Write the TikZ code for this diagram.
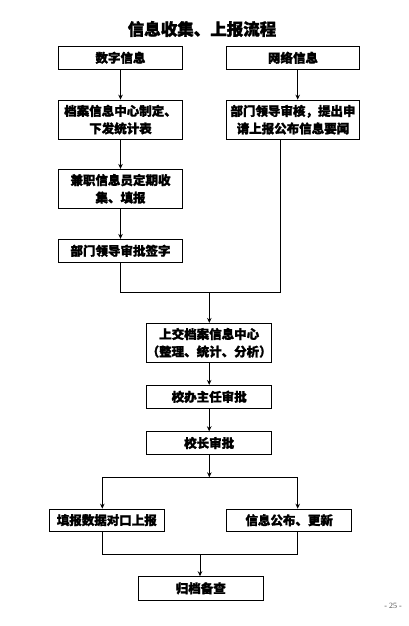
\documentclass[tikz,border=0pt]{standalone}
\usepackage{fontspec}
\setmainfont{Noto Sans CJK SC}[BoldFeatures={FakeBold=1.5}]
\newfontfamily\pnfont{Liberation Serif}
\usetikzlibrary{arrows.meta}
\begin{document}
\begin{tikzpicture}[x=1pt,y=-1pt,
  box/.style={draw, line width=0.8pt, inner sep=0pt, align=center,
    font=\bfseries\fontsize{12.5}{17.5}\selectfont},
  arr/.style={-{Stealth[length=5pt,width=4.5pt]}, line width=0.8pt},
  ln/.style={line width=0.8pt}]
\useasboundingbox (0,0) rectangle (409,626);
\node[font=\bfseries\fontsize{16.5}{18}\selectfont] (title) at (202,29) {信息收集、上报流程};
\node[box, minimum width=124.4pt, minimum height=23pt] (a) at (120.5,57.8) {数字信息};
\node[box, minimum width=132.6pt, minimum height=23pt] (b) at (293,57.8) {网络信息};
\node[box, minimum width=124.4pt, minimum height=39.3pt] (c) at (120.5,119.7) {档案信息中心制定、\\下发统计表};
\node[box, minimum width=132.6pt, minimum height=39.3pt] (d) at (293,119.7) {部门领导审核，提出申\\请上报公布信息要闻};
\node[box, minimum width=124.4pt, minimum height=39pt] (e) at (120.5,188.8) {兼职信息员定期收\\集、填报};
\node[box, minimum width=124.4pt, minimum height=23pt] (f) at (120.5,250.8) {部门领导审批签字};
\node[box, minimum width=125pt, minimum height=39pt] (g) at (209.2,342.8) {上交档案信息中心\\（整理、统计、分析）};
\node[box, minimum width=125pt, minimum height=23pt] (h) at (209.2,396.8) {校办主任审批};
\node[box, minimum width=125pt, minimum height=22.6pt] (i) at (209.2,443) {校长审批};
\node[box, minimum width=115pt, minimum height=22.3pt] (j) at (106.8,520.2) {填报数据对口上报};
\node[box, minimum width=125pt, minimum height=22.3pt] (k) at (289.2,520.2) {信息公布、更新};
\node[box, minimum width=125pt, minimum height=23.3pt] (l) at (200.8,588.3) {归档备查};
\node[font=\pnfont\fontsize{8}{9}\selectfont, text=black!70] (pn) at (393,606) {- 25 -};

\draw[arr] (a) -- (c);
\draw[arr] (c) -- (e);
\draw[arr] (e) -- (f);
\draw[arr] ([xshift=4.7pt]b.south) -- ([xshift=4.7pt]d.north);
\coordinate (m) at (209.3,292);
\draw[ln] (f.south) |- (m);
\draw[ln] ([xshift=-13pt]d.south) |- (m);
\draw[arr] (m) -- (g.north -| m);
\draw[arr] (g) -- (h);
\draw[arr] (h) -- (i);
\coordinate (n) at (209.3,477.3);
\draw[arr] (i.south -| n) -- (n);
\draw[ln] ([xshift=-4.5pt]j.north |- n) -- ([xshift=8.5pt]k.north |- n);
\draw[arr] ([xshift=-4.5pt]j.north |- n) -- ([xshift=-4.5pt]j.north);
\draw[arr] ([xshift=8.5pt]k.north |- n) -- ([xshift=8.5pt]k.north);
\coordinate (p) at (200,554.3);
\draw[ln] ([xshift=-4.5pt]j.south) |- (p);
\draw[ln] ([xshift=8.5pt]k.south) |- (p);
\draw[arr] (p) -- (l.north -| p);
\end{tikzpicture}
\end{document}
